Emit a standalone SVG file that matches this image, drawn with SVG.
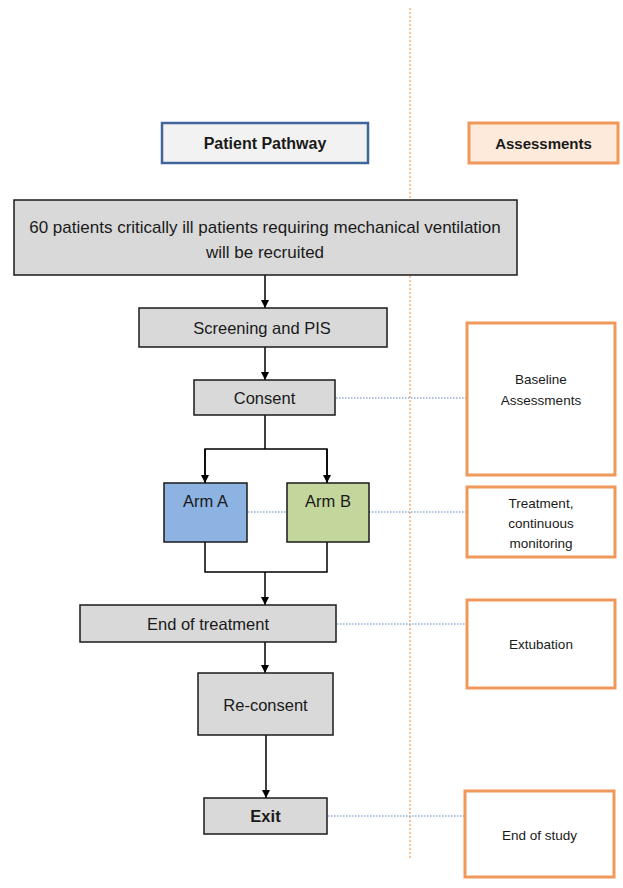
<svg xmlns="http://www.w3.org/2000/svg" width="623" height="888" viewBox="0 0 623 888">
<style>
text{font-family:"Liberation Sans",Arial,sans-serif;fill:#1a1a1a;text-anchor:middle}
.main{fill:#d9d9d9;stroke:#1a1a1a;stroke-width:1.5}
.assess{fill:#ffffff;stroke:#f0975a;stroke-width:3}
.t{font-size:16.5px}
.s{font-size:13.5px}
.b{font-weight:bold}
.flow{stroke:#000;stroke-width:1.5;fill:none}
.dot{stroke:#5b84c4;stroke-width:1.2;stroke-dasharray:1.5 1.5;fill:none}
</style>
<defs>
<marker id="ah" viewBox="0 0 10 10" refX="10" refY="5" markerWidth="8" markerHeight="8" markerUnits="userSpaceOnUse" orient="auto">
<path d="M0,0 L10,5 L0,10 z" fill="#000"/>
</marker>
</defs>
<line x1="410" y1="8" x2="410" y2="858" stroke="#f0b27a" stroke-width="1.5" stroke-dasharray="2 2"/>
<g id="connectors">
<line class="flow" x1="265" y1="275" x2="265" y2="308" marker-end="url(#ah)"/>
<line class="flow" x1="265" y1="347" x2="265" y2="380" marker-end="url(#ah)"/>
<polyline class="flow" points="265,415 265,449"/>
<polyline class="flow" points="205,483 205,449 327,449 327,483"/>
<line class="flow" x1="205" y1="449" x2="205" y2="483" marker-end="url(#ah)"/>
<line class="flow" x1="327" y1="449" x2="327" y2="483" marker-end="url(#ah)"/>
<polyline class="flow" points="205,542 205,572 327,572 327,542"/>
<line class="flow" x1="265" y1="572" x2="265" y2="605" marker-end="url(#ah)"/>
<line class="flow" x1="265" y1="642" x2="265" y2="673" marker-end="url(#ah)"/>
<line class="flow" x1="266" y1="735" x2="266" y2="798" marker-end="url(#ah)"/>
<line class="dot" x1="336" y1="398" x2="467" y2="398"/>
<line class="dot" x1="248" y1="512" x2="287" y2="512"/>
<line class="dot" x1="369" y1="512" x2="467" y2="512"/>
<line class="dot" x1="337" y1="624" x2="467" y2="624"/>
<line class="dot" x1="328" y1="816" x2="465" y2="816"/>
</g>
<g id="patient-pathway">
<rect x="162" y="123" width="206" height="40" fill="#f2f2f2" stroke="#41659a" stroke-width="2.5"/>
<text class="b" font-size="16" x="265" y="149">Patient Pathway</text>
</g>
<g id="assessments">
<rect x="469" y="123" width="149" height="40" fill="#fdeadb" stroke="#f0975a" stroke-width="3"/>
<text class="b" font-size="15" x="543.5" y="148.5">Assessments</text>
</g>
<g id="recruit">
<rect class="main" x="14" y="200" width="503" height="75"/>
<text font-size="17" x="265" y="233">60 patients critically ill patients requiring mechanical ventilation</text>
<text font-size="17" x="265" y="258">will be recruited</text>
</g>
<g id="screening">
<rect class="main" x="139" y="308" width="248" height="39"/>
<text class="t" x="262" y="334">Screening and PIS</text>
</g>
<g id="consent">
<rect class="main" x="194" y="380" width="141" height="35"/>
<text class="t" x="264.5" y="404">Consent</text>
</g>
<g id="arm-a">
<rect x="164" y="483" width="83" height="59" fill="#8db3e2" stroke="#1a1a1a" stroke-width="1.5"/>
<text class="t" x="205.5" y="507">Arm A</text>
</g>
<g id="arm-b">
<rect x="287" y="483" width="82" height="59" fill="#c3d69b" stroke="#1a1a1a" stroke-width="1.5"/>
<text class="t" x="328" y="507">Arm B</text>
</g>
<g id="end-treatment">
<rect class="main" x="80" y="605" width="256" height="37"/>
<text class="t" x="208" y="630">End of treatment</text>
</g>
<g id="reconsent">
<rect class="main" x="198" y="673" width="135" height="62"/>
<text class="t" x="265.5" y="711">Re-consent</text>
</g>
<g id="exit">
<rect class="main" x="204" y="798" width="123" height="36"/>
<text class="t b" x="265.5" y="822">Exit</text>
</g>
<g id="baseline">
<rect class="assess" x="467" y="323" width="148" height="152"/>
<text class="s" x="541" y="384">Baseline</text>
<text class="s" x="541" y="405">Assessments</text>
</g>
<g id="treatment">
<rect class="assess" x="467" y="487" width="148" height="70"/>
<text class="s" x="541" y="508">Treatment,</text>
<text class="s" x="541" y="528">continuous</text>
<text class="s" x="541" y="548">monitoring</text>
</g>
<g id="extubation">
<rect class="assess" x="467" y="600" width="148" height="88"/>
<text class="s" x="541" y="649">Extubation</text>
</g>
<g id="end-study">
<rect class="assess" x="465" y="791" width="149" height="86"/>
<text class="s" x="539.5" y="840">End of study</text>
</g>
</svg>
